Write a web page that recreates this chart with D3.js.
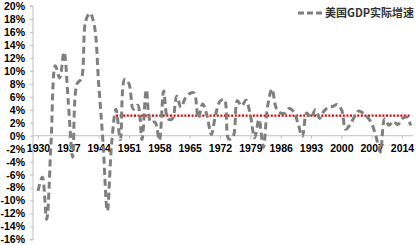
<!DOCTYPE html>
<html><head><meta charset="utf-8">
<script src="https://cdn.jsdelivr.net/npm/d3@7/dist/d3.min.js"></script>
<style>body{margin:0;background:#fff}svg{display:block}</style>
</head><body>
<svg id="c" width="416" height="245"></svg>
<script>
const years = d3.range(1930, 2017);
const growth = [-8.5,-6.4,-12.9,-1.2,10.8,8.9,12.9,5.1,-3.3,8.0,8.8,17.7,18.9,17.0,8.0,-1.0,-11.6,-1.1,4.1,-0.6,
  8.7,8.0,4.1,4.7,-0.6,7.1,2.1,2.1,-0.7,6.9,2.6,2.6,6.1,4.4,5.8,6.5,6.6,2.7,4.9,3.1,
  0.2,3.3,5.3,5.6,-0.5,-0.2,5.4,4.6,5.5,3.2,-0.3,2.5,-1.8,4.6,7.2,4.2,3.5,3.5,4.2,3.7,
  1.9,-0.1,3.5,2.8,4.0,2.7,3.8,4.4,4.5,4.8,4.1,1.0,1.7,2.9,3.8,3.5,2.9,1.9,-0.1,-2.5,
  2.6,1.6,2.2,1.7,2.6,2.9,1.6];
const avgStart = 1948, avgEnd = 2016, avgValue = 3.1;
const yTicks = d3.range(-16, 21, 2);
const xTickYears = d3.range(1930, 2017, 7);
const seriesName = "美国GDP实际增速";

const svg = d3.select("#c");
const x = d3.scaleLinear().domain([1930, 2014]).range([38, 402]);
const y = d3.scaleLinear().domain([-16, 20]).range([239.5, 6]);
const font = "'Liberation Sans', Arial, sans-serif";

// y axis
const ya = svg.append("g").attr("transform", "translate(33,0)")
  .call(d3.axisLeft(y).tickValues(yTicks).tickSize(3).tickPadding(5).tickFormat(d => d + "%"));
ya.select(".domain").attr("stroke", "#bfbfbf").attr("d", `M-3,${y(-16)}H0V${y(20)}H-3`);
ya.selectAll(".tick line").attr("stroke", "#bfbfbf");
ya.selectAll("text").attr("font-family", font).attr("font-weight", "bold").attr("font-size", "10.5px").attr("fill", "#000");

// x axis at 0
const xa = svg.append("g").attr("transform", `translate(0,${y(0)})`)
  .call(d3.axisBottom(x).tickValues(xTickYears).tickSize(3).tickPadding(6).tickFormat(d3.format("d")));
xa.select(".domain").attr("stroke", "#bfbfbf").attr("d", `M33,0H413`);
xa.selectAll(".tick line").attr("stroke", "#bfbfbf");
xa.selectAll("text").attr("font-family", font).attr("font-weight", "bold").attr("font-size", "10.5px").attr("fill", "#000");

// average line
svg.append("line")
  .attr("x1", x(avgStart)).attr("x2", x(avgEnd)).attr("y1", y(avgValue)).attr("y2", y(avgValue))
  .attr("stroke", "#e00000").attr("stroke-width", 2.2).attr("stroke-dasharray", "2,1.6");

// series
const line = d3.line().x((d, i) => x(years[i])).y(d => y(d)).curve(d3.curveCatmullRom.alpha(0.5));
svg.append("path").datum(growth).attr("d", line)
  .attr("fill", "none").attr("stroke", "#7f7f7f").attr("stroke-width", 3).attr("stroke-dasharray", "7,4");

// legend
svg.append("line").attr("x1", 298).attr("x2", 323).attr("y1", 13).attr("y2", 13)
  .attr("stroke", "#7f7f7f").attr("stroke-width", 3).attr("stroke-dasharray", "6,3");
svg.append("text").attr("x", 325).attr("y", 13).attr("dy", "0.35em")
  .attr("font-family", "'Noto Sans CJK SC', sans-serif").attr("font-weight", "bold").attr("font-size", "11px")
  .attr("fill", "#333").text(seriesName);
</script>
</body></html>
